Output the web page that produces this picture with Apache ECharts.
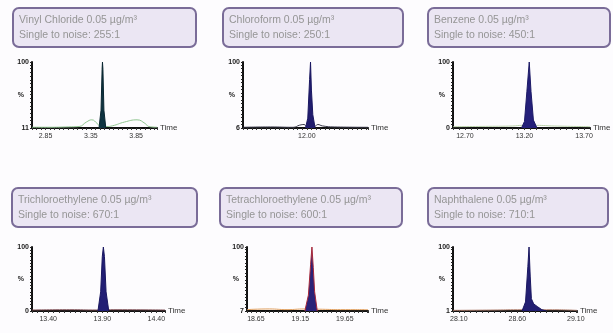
<!DOCTYPE html>
<html>
<head>
<meta charset="utf-8">
<script src="https://cdn.jsdelivr.net/npm/echarts@6/dist/echarts.min.js"></script>
<style>
  html, body { margin: 0; padding: 0; background: #fff; }
  #chart { width: 613px; height: 333px; }
</style>
</head>
<body>
<div id="chart"></div>
<script>
// compound labels
var names = ['Vinyl Chloride 0.05 µg/m³', 'Chloroform 0.05 µg/m³', 'Benzene 0.05 µg/m³',
  'Trichloroethylene 0.05 µg/m³', 'Tetrachloroethylene 0.05 µg/m³', 'Naphthalene 0.05 µg/m³'];
var notes = ['Single to noise: 255:1', 'Single to noise: 250:1', 'Single to noise: 450:1',
  'Single to noise: 670:1', 'Single to noise: 600:1', 'Single to noise: 710:1'];

// axis ranges and tick labels
var xMin = [2.70, 11.30, 12.60, 13.25, 18.55, 28.05];
var xMax = [4.08, 12.67, 13.75, 14.48, 19.91, 29.11];
var xTicks = [[2.85, 3.35, 3.85], [12.00], [12.70, 13.20, 13.70],
  [13.40, 13.90, 14.40], [18.65, 19.15, 19.65], [28.10, 28.60, 29.10]];
var yBottom = [11, 6, 0, 0, 7, 1];
var yTop = 100;

// peaks [time, %]
var peak1 = [[3.44, 11], [3.462, 35], [3.474, 90], [3.478, 100], [3.483, 90], [3.494, 35], [3.515, 11]];
var peak2 = [[11.985, 6], [12.01, 20], [12.03, 75], [12.04, 100], [12.05, 60], [12.065, 25], [12.09, 6]];
var peak3 = [[13.175, 0], [13.2, 10], [13.22, 55], [13.24, 100], [13.255, 55], [13.275, 12], [13.305, 0]];
var peak4 = [[13.86, 0], [13.885, 30], [13.9, 85], [13.91, 100], [13.92, 85], [13.935, 30], [13.96, 0]];
var peak5 = [[19.2, 7], [19.24, 30], [19.265, 75], [19.28, 100], [19.295, 70], [19.31, 35], [19.34, 7]];
var peak6 = [[28.64, 1], [28.67, 15], [28.69, 70], [28.70, 100], [28.71, 55], [28.72, 20], [28.74, 12],
  [28.77, 8], [28.81, 3], [28.85, 1]];

// baseline / noise traces
var noise1 = [[2.70, 12], [2.9, 12], [3.1, 12.5], [3.22, 13], [3.30, 19], [3.36, 22], [3.42, 17], [3.46, 13],
  [3.52, 13], [3.59, 14], [3.72, 19], [3.86, 22], [3.95, 17], [3.99, 13], [4.08, 12]];
var noise2 = [[11.30, 7], [11.6, 7.5], [11.85, 7], [11.92, 10], [11.97, 11], [12.0, 8], [12.08, 8],
  [12.12, 11], [12.17, 9], [12.3, 7.5], [12.67, 7]];
var noise3 = [[12.60, 2], [12.9, 2.5], [13.1, 3], [13.18, 4], [13.3, 4], [13.45, 3], [13.75, 2]];
var noise4 = [[13.25, 1.5], [13.6, 2], [13.85, 1.5], [14.0, 2], [14.48, 1.5]];
var noise5 = [[18.55, 9], [18.8, 10], [19.0, 9], [19.2, 10], [19.4, 9.5], [19.6, 9], [19.91, 9]];
var noise6 = [[28.05, 2], [28.4, 2.5], [28.6, 3], [28.9, 3], [29.11, 2]];

var peaks = [peak1, peak2, peak3, peak4, peak5, peak6];
var noises = [noise1, noise2, noise3, noise4, noise5, noise6];

var peakFill = ['#0e3340', '#211d6e', '#25207a', '#221e74', '#2a2378', '#231f72'];
var peakLine = ['#0a2630', '#1a1760', '#1d1a66', '#1a1760', '#a8283a', '#1a1760'];
var noiseColor = ['#8fc48f', '#3a3a4a', '#b8d0a8', '#7a4a50', '#e0a060', '#b08070'];

var gridLeft = [32, 243, 453, 32, 247, 453];
var gridRight = [157, 368, 590, 165, 368, 577];
var boxL = [13, 223, 428, 12, 220, 428];
var boxR = [196, 403, 610, 197, 402, 608];

var myChart = echarts.init(document.getElementById('chart'));

var grids = [], xAxes = [], yAxes = [], series = [], graphics = [];

function makeXFormatter(ticks) {
  return function (v) {
    for (var k = 0; k < ticks.length; k++) {
      if (Math.abs(v - ticks[k]) < 1e-6) return ticks[k].toFixed(2);
    }
    return '';
  };
}
function makeYFormatter(lo) {
  return function (v) {
    if (Math.abs(v - lo) < 1e-6 || Math.abs(v - yTop) < 1e-6) return String(Math.round(v));
    return '';
  };
}

for (var i = 0; i < 6; i++) {
  var row = i < 3 ? 0 : 1;
  grids.push({
    left: gridLeft[i],
    top: row === 0 ? 62 : 247,
    width: gridRight[i] - gridLeft[i],
    height: row === 0 ? 66 : 64
  });

  xAxes.push({
    type: 'value',
    gridIndex: i,
    min: xMin[i],
    max: xMax[i],
    interval: 0.05,
    name: 'Time',
    nameLocation: 'end',
    nameGap: 3,
    nameTextStyle: { fontSize: 8, color: '#333', fontFamily: 'Liberation Sans' },
    splitLine: { show: false },
    axisLine: { onZero: false, lineStyle: { color: '#111', width: 2 } },
    axisTick: { show: true, length: 2, lineStyle: { color: '#333' } },
    axisLabel: {
      fontSize: 7,
      color: '#333',
      margin: 5,
      showMinLabel: true,
      showMaxLabel: true,
      fontFamily: 'Liberation Sans',
      formatter: makeXFormatter(xTicks[i])
    }
  });

  yAxes.push({
    type: 'value',
    gridIndex: i,
    min: yBottom[i],
    max: yTop,
    interval: 5,
    name: '%',
    nameLocation: 'middle',
    nameRotate: 0,
    nameGap: 8,
    nameMoveOverlap: false,
    nameTextStyle: { fontSize: 7, color: '#222', fontWeight: 'bold', fontFamily: 'Liberation Sans' },
    splitLine: { show: false },
    axisLine: { show: true, onZero: false, lineStyle: { color: '#111', width: 2 } },
    axisTick: { show: true, length: 2, lineStyle: { color: '#222' } },
    axisLabel: {
      fontSize: 7,
      fontWeight: 'bold',
      color: '#222',
      margin: 3,
      showMinLabel: true,
      showMaxLabel: true,
      fontFamily: 'Liberation Sans',
      formatter: makeYFormatter(yBottom[i])
    }
  });

  series.push({
    type: 'line',
    xAxisIndex: i,
    yAxisIndex: i,
    data: noises[i],
    symbol: 'none',
    smooth: true,
    lineStyle: { color: noiseColor[i], width: 1 },
    z: 2
  });
  series.push({
    type: 'line',
    xAxisIndex: i,
    yAxisIndex: i,
    data: peaks[i],
    symbol: 'none',
    lineStyle: { color: peakLine[i], width: 1 },
    areaStyle: { color: peakFill[i], opacity: 1 },
    z: 3
  });

  var boxTop = row === 0 ? 8 : 188;
  graphics.push({
    type: 'rect',
    shape: { x: boxL[i], y: boxTop, width: boxR[i] - boxL[i], height: 39, r: 6 },
    style: { fill: '#ebe6f3', stroke: '#7a6c98', lineWidth: 2 }
  });
  graphics.push({
    type: 'text',
    x: boxL[i] + 6,
    y: boxTop + 12,
    style: { text: names[i], fill: '#959595', fontSize: 10.5, fontFamily: 'Liberation Sans', verticalAlign: 'middle' }
  });
  graphics.push({
    type: 'text',
    x: boxL[i] + 6,
    y: boxTop + 27,
    style: { text: notes[i], fill: '#959595', fontSize: 10.5, fontFamily: 'Liberation Sans', verticalAlign: 'middle' }
  });
}

var option = {
  animation: false,
  backgroundColor: '#fdfcfe',
  grid: grids,
  xAxis: xAxes,
  yAxis: yAxes,
  series: series,
  graphic: graphics
};

option && myChart.setOption(option);
</script>
</body>
</html>
